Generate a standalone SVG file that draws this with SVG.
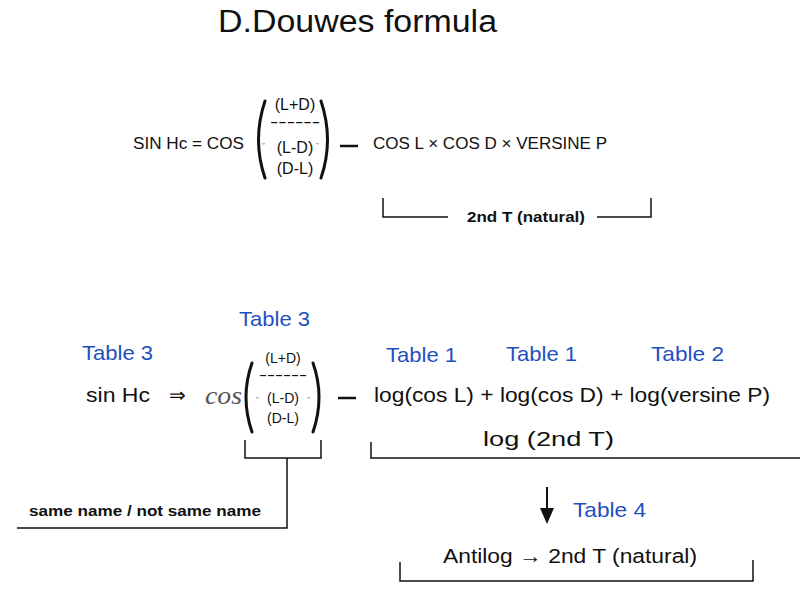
<svg xmlns="http://www.w3.org/2000/svg" width="800" height="613" viewBox="0 0 800 613">
<style>
text{font-family:"Liberation Sans",Arial,sans-serif;fill:#111}
.b{fill:#1f4fbf;font-size:21px}
.m{font-size:16px}
.m2{font-size:20px}
.s{font-size:14px}
.bd{font-weight:bold;font-size:15px}
.ln{fill:none;stroke:#111;stroke-width:1.5}
.par{fill:none;stroke:#111;stroke-width:3;stroke-linecap:round}
.dot{fill:#bbb}
</style>
<rect width="800" height="613" fill="#fff"/>
<text x="218" y="32" font-size="31" textLength="279" lengthAdjust="spacingAndGlyphs">D.Douwes formula</text>
<g id="formula1">
<text class="m" x="133" y="149" textLength="111" lengthAdjust="spacingAndGlyphs">SIN Hc = COS</text>
<path class="par" d="M265,101 Q252,140 265,178"/>
<path class="par" d="M321,101 Q334,140 321,178"/>
<text class="m" x="295" y="110" text-anchor="middle">(L+D)</text>
<text class="m" x="270" y="127" textLength="50" lengthAdjust="spacingAndGlyphs">------</text>
<text class="m" x="295" y="153" text-anchor="middle">(L-D)</text>
<text class="m" x="295" y="174" text-anchor="middle">(D-L)</text>
<rect class="dot" x="262" y="143" width="3" height="1.5"/>
<rect class="dot" x="316" y="143" width="3" height="1.5"/>
<line x1="340" y1="146" x2="358" y2="146" stroke="#111" stroke-width="2.5"/>
<text class="m" x="373" y="149" textLength="234" lengthAdjust="spacingAndGlyphs">COS L × COS D × VERSINE P</text>
</g>
<g id="bracket1">
<path class="ln" d="M383,198V217H448M597,217H651V198"/>
<text class="bd" x="467" y="222" textLength="118" lengthAdjust="spacingAndGlyphs">2nd T (natural)</text>
</g>
<g id="labels">
<text class="b" x="82" y="360" textLength="71" lengthAdjust="spacingAndGlyphs">Table 3</text>
<text class="b" x="239" y="326" textLength="71" lengthAdjust="spacingAndGlyphs">Table 3</text>
<text class="b" x="386" y="362" textLength="71" lengthAdjust="spacingAndGlyphs">Table 1</text>
<text class="b" x="506" y="361" textLength="71" lengthAdjust="spacingAndGlyphs">Table 1</text>
<text class="b" x="651" y="361" textLength="73" lengthAdjust="spacingAndGlyphs">Table 2</text>
<text class="b" x="573" y="517" textLength="73" lengthAdjust="spacingAndGlyphs">Table 4</text>
</g>
<g id="formula2">
<text class="m2" x="86" y="402" textLength="64" lengthAdjust="spacingAndGlyphs">sin Hc</text>
<text class="m2" x="169" y="402">⇒</text>
<text x="205" y="404" font-size="25" font-style="italic" style="font-family:'Liberation Serif',serif;fill:#555" textLength="37" lengthAdjust="spacingAndGlyphs">cos</text>
<path class="par" d="M252,363 Q240,397 252,432" stroke-width="2.5"/>
<path class="par" d="M313,363 Q325,397 313,432" stroke-width="2.5"/>
<text class="s" x="283" y="363" text-anchor="middle">(L+D)</text>
<text class="s" x="259" y="380" textLength="48" lengthAdjust="spacingAndGlyphs">------</text>
<text class="s" x="283" y="403" text-anchor="middle">(L-D)</text>
<text class="s" x="283" y="423" text-anchor="middle">(D-L)</text>
<rect class="dot" x="256" y="397" width="3" height="1.5"/>
<rect class="dot" x="307" y="397" width="3" height="1.5"/>
<line x1="338" y1="398" x2="356" y2="398" stroke="#111" stroke-width="2.5"/>
<text class="m2" x="374" y="402" textLength="396" lengthAdjust="spacingAndGlyphs">log(cos L) + log(cos D) + log(versine P)</text>
<text class="m2" x="483" y="446" textLength="131" lengthAdjust="spacingAndGlyphs">log (2nd T)</text>
</g>
<g id="connectors">
<path class="ln" d="M245,440V458H321V440M287,458V528H17"/>
<path class="ln" d="M371,442V458H800"/>
<line x1="547" y1="487" x2="547" y2="510" stroke="#111" stroke-width="2"/>
<polygon points="540,508 554,508 547,524" fill="#111"/>
<path class="ln" d="M400,562V581H753V560"/>
</g>
<text class="bd" x="29" y="516" textLength="232" lengthAdjust="spacingAndGlyphs">same name / not same name</text>
<g id="result">
<text class="m2" x="443" y="563" textLength="254" lengthAdjust="spacingAndGlyphs">Antilog → 2nd T (natural)</text>
</g>
</svg>
